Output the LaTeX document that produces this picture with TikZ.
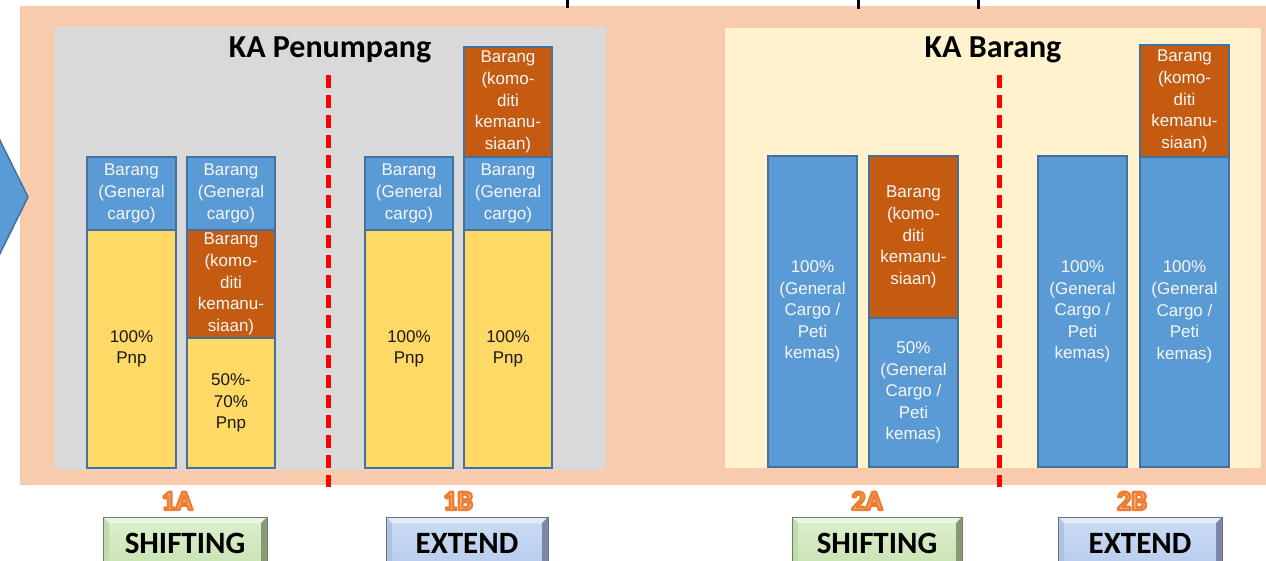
\documentclass[tikz,border=0pt]{standalone}
\usepackage{fontspec}
\setmainfont{Liberation Sans}
\newfontfamily\calfont{Carlito}
\definecolor{peach}{HTML}{F8CBAD}
\definecolor{panelgray}{HTML}{D9D9D9}
\definecolor{cream}{HTML}{FFF2CC}
\definecolor{segblue}{HTML}{5B9BD5}
\definecolor{segline}{HTML}{41719C}
\definecolor{segorange}{HTML}{C55A11}
\definecolor{segyellow}{HTML}{FFD966}
\definecolor{lblout}{HTML}{ED7D31}
\definecolor{lblin}{HTML}{F8B88A}
\definecolor{gface1}{HTML}{DDF0CF}
\definecolor{gface2}{HTML}{C9E3B3}
\definecolor{gtop}{HTML}{EAF6E1}
\definecolor{gleft}{HTML}{C2DBAE}
\definecolor{gright}{HTML}{869A77}
\definecolor{gedge}{HTML}{6F7F63}
\definecolor{bface1}{HTML}{CCDCF4}
\definecolor{bface2}{HTML}{B8CCEE}
\definecolor{btop}{HTML}{E2EBF9}
\definecolor{bleft}{HTML}{AFC3E6}
\definecolor{bright}{HTML}{7B89A6}
\definecolor{bedge}{HTML}{65708A}
\newcommand\drawbtn[5]{%
  \shade[top color=#3face1, bottom color=#3face2] (#1,517) rectangle (#2,566);
  \fill[#3top] (#1,517) -- (#2,517) -- (#2-6,523) -- (#1+6,523) -- cycle;
  \fill[#3left] (#1,517) -- (#1+6,523) -- (#1+6,566) -- (#1,566) -- cycle;
  \fill[#3right] (#2,517) -- (#2-6,523) -- (#2-6,566) -- (#2,566) -- cycle;
  \draw[#3edge, line width=0.8pt] (#1,566) -- (#1,517) -- (#2,517) -- (#2,566);
  \node[btntext] (#4) at ({(#1+#2)/2},553) {#5};}
\newcommand\olabel[3]{%
  \node[lbl, text=lblin] (#1) at (#2,510) {\special{pdf:literal direct 0.929 0.490 0.192 RG 2.4 w 1 j 2 Tr}#3\special{pdf:literal direct 0 Tr 0.4 w 0 j}};}
\begin{document}
\begin{tikzpicture}[x=1pt,y=-1pt,
  seg/.style={draw=segline, line width=1.1pt, inner sep=0pt, align=center,
    font=\fontsize{17}{21.6}\selectfont},
  blueseg/.style={seg, fill=segblue, text=white!94!gray},
  orangeseg/.style={seg, fill=segorange, text=white!94!gray},
  yellowseg/.style={seg, fill=segyellow, text=black!90},
  title/.style={anchor=base, font=\calfont\bfseries\fontsize{32}{32}\selectfont},
  btntext/.style={anchor=base, font=\calfont\bfseries\fontsize{31}{31}\selectfont},
  lbl/.style={anchor=base, inner sep=0pt, font=\calfont\bfseries\fontsize{28}{28}\selectfont},
  reddash/.style={draw=red, line width=5pt, dash pattern=on 13pt off 7pt}]
\useasboundingbox (0,0) rectangle (1266,560);
\fill[white] (0,0) rectangle (1266,560);
% outer peach and panels
\fill[peach] (20,6) rectangle (1270,485);
\fill[panelgray] (54,27) rectangle (606,470);
\fill[cream] (725,28) rectangle (1261,468);
% descender fragments of clipped title
\fill[black] (565.5,0) rectangle (569,8);
\fill[black] (856.5,0) rectangle (860,9);
\fill[black] (976.5,0) rectangle (980,9);
% left arrow
\begin{scope}
\clip (0,0) rectangle (1266,560);
\draw[fill=segblue, draw=segline, line width=1.5pt] (-60,100) -- (-20,100) -- (28,197) -- (-20,294) -- (-60,294) -- cycle;
\end{scope}
% titles
\node[title] (t1) at (330,57) {KA Penumpang};
\node[title] (t2) at (993,57) {KA Barang};
% dashed separators
\coordinate (d1a) at (328,75); \coordinate (d1b) at (328,487);
\coordinate (d2a) at (999,75); \coordinate (d2b) at (999,487);
\draw[reddash] (d1a) -- (d1b);
\draw[reddash] (d2a) -- (d2b);
% bar 1
\node[blueseg, minimum width=89pt, minimum height=73pt] (b1a) at (131.5,193.5) {Barang\\(General\\cargo)};
\node[yellowseg, minimum width=89pt, minimum height=238pt] (b1b) at (131.5,349) {100\%\\Pnp};
% bar 2
\node[blueseg, minimum width=88pt, minimum height=73pt] (b2a) at (231,193.5) {Barang\\(General\\cargo)};
\node[orangeseg, minimum width=88pt, minimum height=108pt] (b2b) at (231,284) {Barang\\(komo-\\diti\\kemanu-\\siaan)};
\node[yellowseg, minimum width=88pt, minimum height=130pt] (b2c) at (231,403) {50\%-\\70\%\\Pnp};
% bar 3
\node[blueseg, minimum width=88pt, minimum height=73pt] (b3a) at (409,193.5) {Barang\\(General\\cargo)};
\node[yellowseg, minimum width=88pt, minimum height=238pt] (b3b) at (409,349) {100\%\\Pnp};
% bar 4
\node[orangeseg, minimum width=88pt, minimum height=110pt] (b4a) at (508,102) {Barang\\(komo-\\diti\\kemanu-\\siaan)};
\node[blueseg, minimum width=88pt, minimum height=73pt] (b4b) at (508,193.5) {Barang\\(General\\cargo)};
\node[yellowseg, minimum width=88pt, minimum height=238pt] (b4c) at (508,349) {100\%\\Pnp};
% bar 5
\node[blueseg, minimum width=89pt, minimum height=311pt] (b5a) at (812.5,311.5) {100\%\\(General\\Cargo /\\Peti\\kemas)};
% bar 6
\node[orangeseg, minimum width=89pt, minimum height=162pt] (b6a) at (913.5,237) {Barang\\(komo-\\diti\\kemanu-\\siaan)};
\node[blueseg, minimum width=89pt, minimum height=149pt] (b6b) at (913.5,392.5) {50\%\\(General\\Cargo /\\Peti\\kemas)};
% bar 7
\node[blueseg, minimum width=89pt, minimum height=311pt] (b7a) at (1082.5,311.5) {100\%\\(General\\Cargo /\\Peti\\kemas)};
% bar 8
\node[orangeseg, minimum width=89pt, minimum height=112pt] (b8a) at (1184.5,101) {Barang\\(komo-\\diti\\kemanu-\\siaan)};
\node[blueseg, minimum width=89pt, minimum height=310pt] (b8b) at (1184.5,312) {100\%\\(General\\Cargo /\\Peti\\kemas)};
% labels
\olabel{l1a}{177}{1A}
\olabel{l1b}{458}{1B}
\olabel{l2a}{867}{2A}
\olabel{l2b}{1132}{2B}
% buttons
\drawbtn{103}{267}{g}{s1}{SHIFTING}
\drawbtn{386}{548}{b}{e1}{EXTEND}
\drawbtn{792}{962}{g}{s2}{SHIFTING}
\drawbtn{1058}{1222}{b}{e2}{EXTEND}
\end{tikzpicture}
\end{document}
